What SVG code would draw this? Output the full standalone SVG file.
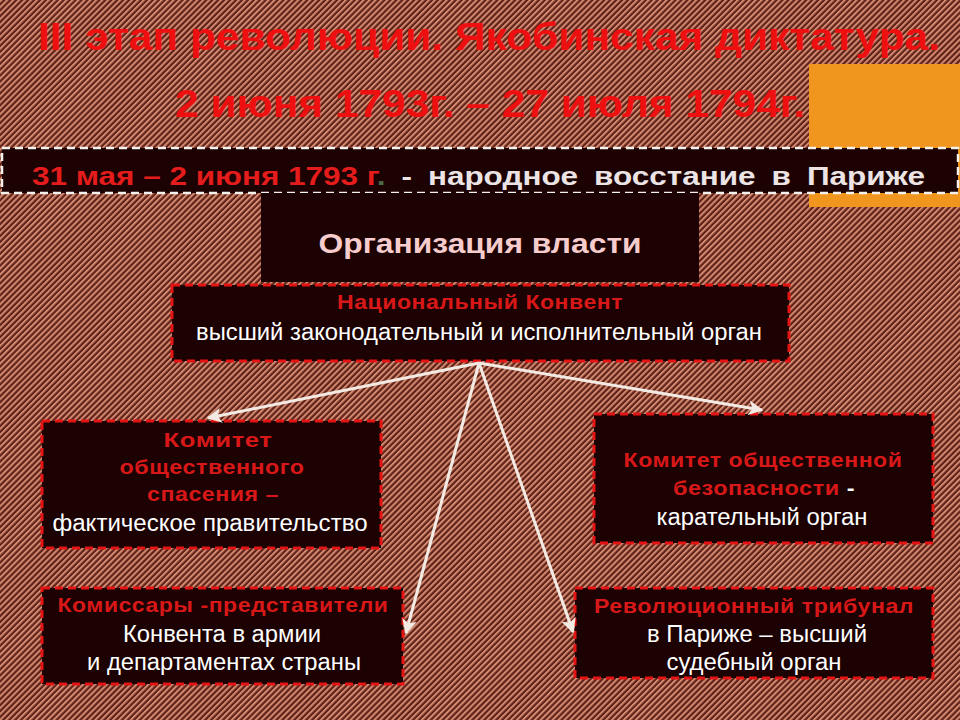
<svg xmlns="http://www.w3.org/2000/svg" width="960" height="720" viewBox="0 0 960 720">
<defs>
<pattern id="bg" width="4.2" height="4.2" patternUnits="userSpaceOnUse" patternTransform="rotate(45)">
<rect width="4.2" height="4.2" fill="#5e2219"/>
<rect width="2" height="4.2" fill="#d48a70"/>
</pattern>
<marker id="ah" viewBox="0 0 10 10" refX="9" refY="5" markerWidth="5" markerHeight="5" orient="auto" markerUnits="strokeWidth">
<path d="M0,0 L10,5 L0,10 L2.5,5 Z" fill="#f3ebe3"/>
</marker>
</defs>
<style>
.box{fill:#1c0202;stroke:#e41414;stroke-width:3;stroke-dasharray:8 5}
.hd{font-family:"Liberation Sans",Arial,sans-serif;font-weight:bold;font-size:21px;fill:#d81818;text-anchor:middle;letter-spacing:0.5px}
.tx{font-family:"Liberation Sans",Arial,sans-serif;font-size:23px;fill:#ffffff;text-anchor:middle}
.title{font-family:"Liberation Sans",Arial,sans-serif;font-weight:bold;font-size:39px;fill:#ee1010;text-anchor:middle}
.arr{stroke:#f3ebe3;stroke-width:3;fill:none;marker-end:url(#ah)}
</style>
<rect width="960" height="720" fill="url(#bg)"/>
<g id="orange"><rect x="809" y="64" width="151" height="143" fill="#f0961e"/></g>
<g id="title">
<text class="title" x="489" y="50" textLength="902" lengthAdjust="spacingAndGlyphs">III этап революции. Якобинская диктатура.</text>
<text class="title" x="490" y="117" textLength="630" lengthAdjust="spacingAndGlyphs">2 июня 1793г. – 27 июля 1794г.</text>
</g>
<g id="banner">
<rect x="2" y="148" width="956" height="45" fill="#1c0202" stroke="#f4f0ec" stroke-width="2.5" stroke-dasharray="8 5"/>
<text x="32" y="185" font-family="Liberation Sans,Arial,sans-serif" font-weight="bold" font-size="26" fill="#e41c1c" textLength="893" lengthAdjust="spacingAndGlyphs">31 мая – 2 июня 1793 г<tspan fill="#4a6a4a">.</tspan><tspan fill="#ece4e4" word-spacing="6"> - народное  восстание  в  Париже</tspan></text>
</g>
<g id="org">
<rect x="261" y="193" width="438" height="89" fill="#1c0202"/>
<text x="480" y="253" font-family="Liberation Sans,Arial,sans-serif" font-weight="bold" font-size="28" fill="#f6cccc" text-anchor="middle" textLength="323" lengthAdjust="spacingAndGlyphs">Организация власти</text>
</g>
<g id="konvent">
<rect class="box" x="172" y="285" width="617" height="76"/>
<text class="hd" x="480" y="309" textLength="286" lengthAdjust="spacingAndGlyphs">Национальный Конвент</text>
<text class="tx" x="479" y="340" textLength="566" lengthAdjust="spacingAndGlyphs">высший законодательный и исполнительный орган</text>
</g>
<g id="ksp">
<rect class="box" x="42" y="421" width="339" height="127"/>
<text class="hd" x="218" y="447" textLength="109" lengthAdjust="spacingAndGlyphs">Комитет</text>
<text class="hd" x="212" y="474" textLength="185" lengthAdjust="spacingAndGlyphs">общественного</text>
<text class="hd" x="213" y="501" textLength="132" lengthAdjust="spacingAndGlyphs">спасения –</text>
<text class="tx" x="210" y="531" textLength="315" lengthAdjust="spacingAndGlyphs">фактическое правительство</text>
</g>
<g id="kob">
<rect class="box" x="594" y="414" width="339" height="129"/>
<text class="hd" x="763" y="467" textLength="279" lengthAdjust="spacingAndGlyphs">Комитет общественной</text>
<text class="hd" x="764" y="495" textLength="182" lengthAdjust="spacingAndGlyphs">безопасности <tspan fill="#ffffff">-</tspan></text>
<text class="tx" x="762" y="525" textLength="211" lengthAdjust="spacingAndGlyphs">карательный орган</text>
</g>
<g id="komissary">
<rect class="box" x="42" y="588" width="361" height="96"/>
<text class="hd" x="223" y="612" textLength="331" lengthAdjust="spacingAndGlyphs">Комиссары -представители</text>
<text class="tx" x="222" y="642" textLength="198" lengthAdjust="spacingAndGlyphs">Конвента в армии</text>
<text class="tx" x="224" y="670" textLength="274" lengthAdjust="spacingAndGlyphs">и департаментах страны</text>
</g>
<g id="tribunal">
<rect class="box" x="575" y="588" width="358" height="90"/>
<text class="hd" x="754" y="613" textLength="320" lengthAdjust="spacingAndGlyphs">Революционный трибунал</text>
<text class="tx" x="757" y="642" textLength="220" lengthAdjust="spacingAndGlyphs">в Париже – высший</text>
<text class="tx" x="754" y="670" textLength="175" lengthAdjust="spacingAndGlyphs">судебный орган</text>
</g>
<g id="connectors">
<line class="arr" x1="479" y1="363" x2="208" y2="418"/>
<line class="arr" x1="479" y1="363" x2="762" y2="410"/>
<line class="arr" x1="479" y1="363" x2="406" y2="633"/>
<line class="arr" x1="479" y1="363" x2="573" y2="632"/>
</g>
</svg>
